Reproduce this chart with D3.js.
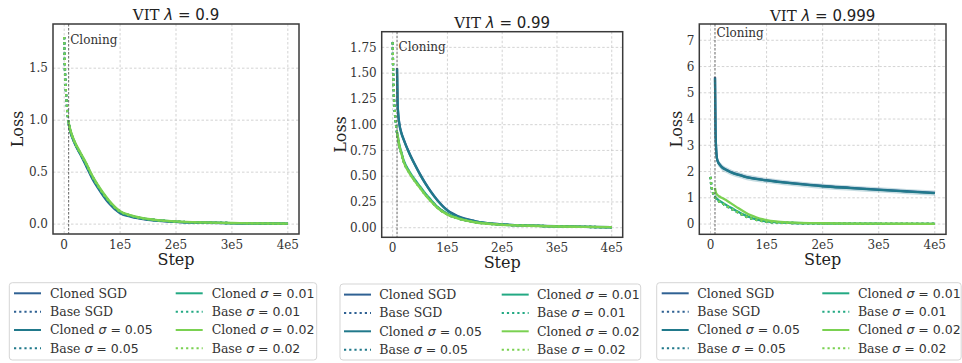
<html>
<head>
<meta charset="utf-8">
<script src="https://d3js.org/d3.v7.min.js"></script>
<style>
  body { margin: 0; background: #fff; }
  text { font-family: "DejaVu Serif"; }
</style>
</head>
<body>
<svg width="962" height="363"></svg>
<script>
// ---- data ----
var steps = [0, 1000, 2000, 4000, 6000, 8000, 9000, 10000, 12000, 16000, 20000, 30000, 40000,
             50000, 60000, 70000, 80000, 100000, 120000, 150000, 200000, 250000, 300000, 350000, 400000];
var cloneStep = 8000;

var xTicks = [0, 1e5, 2e5, 3e5, 4e5];
var xTickLabels = ["0", "1e5", "2e5", "3e5", "4e5"];
var lambdas = ["0.9", "0.99", "0.999"];
var yTicks = [[0, 0.5, 1.0, 1.5],
              [0, 0.25, 0.5, 0.75, 1.0, 1.25, 1.5, 1.75],
              [0, 1, 2, 3, 4, 5, 6, 7]];
var yTickFormats = [".1f", ".2f", "d"];
var cloningLabelY = [1.735, 1.71, 7.13];

// lambda = 0.9
var p1Base      = [1.80, 1.55, 1.40, 1.20, 1.06, 0.97, 0.94, 0.92, 0.88, 0.82, 0.77, 0.67, 0.57, 0.46, 0.37, 0.29, 0.22, 0.12, 0.08, 0.048, 0.024, 0.015, 0.010, 0.007, 0.004];
var p1ClonedSGD = [null, null, null, null, null, 0.97, 0.94, 0.91, 0.87, 0.81, 0.76, 0.66, 0.55, 0.44, 0.35, 0.27, 0.20, 0.105, 0.07, 0.042, 0.021, 0.013, 0.009, 0.006, 0.003];
var p1Cloned05  = [null, null, null, null, null, 0.97, 0.94, 0.92, 0.88, 0.82, 0.77, 0.665, 0.56, 0.45, 0.36, 0.28, 0.21, 0.11, 0.075, 0.045, 0.022, 0.014, 0.009, 0.006, 0.003];
var p1Cloned01  = [null, null, null, null, null, 0.97, 0.94, 0.92, 0.88, 0.82, 0.77, 0.67, 0.57, 0.46, 0.37, 0.29, 0.22, 0.12, 0.08, 0.048, 0.024, 0.015, 0.010, 0.007, 0.004];
var p1Cloned02  = [null, null, null, null, null, 0.98, 0.95, 0.93, 0.89, 0.83, 0.78, 0.68, 0.58, 0.47, 0.38, 0.30, 0.23, 0.125, 0.085, 0.05, 0.026, 0.016, 0.011, 0.007, 0.004];

// lambda = 0.99
var p2Base      = [1.80, 1.50, 1.32, 1.12, 1.00, 0.92, 0.89, 0.86, 0.80, 0.72, 0.645, 0.54, 0.46, 0.39, 0.32, 0.26, 0.205, 0.13, 0.09, 0.055, 0.03, 0.02, 0.013, 0.008, 0.005];
var p2ClonedSGD = [null, null, null, null, null, 1.55, 1.22, 1.12, 1.02, 0.92, 0.86, 0.73, 0.62, 0.52, 0.43, 0.35, 0.28, 0.17, 0.11, 0.065, 0.032, 0.021, 0.014, 0.009, 0.005];
var p2Cloned05  = [null, null, null, null, null, 1.54, 1.21, 1.11, 1.01, 0.915, 0.855, 0.725, 0.615, 0.515, 0.425, 0.345, 0.275, 0.165, 0.105, 0.062, 0.031, 0.02, 0.013, 0.008, 0.004];
var p2Cloned01  = [null, null, null, null, null, 0.93, 0.90, 0.87, 0.81, 0.73, 0.655, 0.55, 0.47, 0.40, 0.33, 0.27, 0.21, 0.135, 0.092, 0.056, 0.03, 0.02, 0.013, 0.008, 0.005];
var p2Cloned02  = [null, null, null, null, null, 0.92, 0.89, 0.86, 0.80, 0.72, 0.64, 0.535, 0.455, 0.385, 0.315, 0.255, 0.20, 0.127, 0.088, 0.053, 0.028, 0.019, 0.012, 0.008, 0.005];

// lambda = 0.999
var p3Base      = [1.80, 1.55, 1.40, 1.22, 1.10, 1.02, 0.99, 0.96, 0.92, 0.85, 0.80, 0.67, 0.55, 0.43, 0.32, 0.23, 0.17, 0.09, 0.06, 0.038, 0.02, 0.013, 0.009, 0.007, 0.005];
var p3ClonedSGD = [null, null, null, null, null, 5.60, 3.60, 2.90, 2.45, 2.28, 2.18, 2.05, 1.95, 1.88, 1.82, 1.77, 1.73, 1.67, 1.62, 1.55, 1.45, 1.38, 1.31, 1.25, 1.19];
var p3Cloned05  = [null, null, null, null, null, 5.55, 3.55, 2.88, 2.44, 2.27, 2.17, 2.04, 1.94, 1.87, 1.81, 1.76, 1.72, 1.66, 1.61, 1.54, 1.44, 1.37, 1.30, 1.24, 1.18];
var p3Band05    = [null, null, null, null, null, 0.30, 0.22, 0.17, 0.14, 0.12, 0.12, 0.11, 0.11, 0.11, 0.11, 0.11, 0.11, 0.10, 0.10, 0.10, 0.10, 0.10, 0.10, 0.10, 0.10];
var p3Cloned01  = [null, null, null, null, null, 1.08, 1.02, 0.99, 0.95, 0.88, 0.83, 0.70, 0.58, 0.46, 0.35, 0.26, 0.19, 0.10, 0.066, 0.04, 0.022, 0.015, 0.011, 0.008, 0.006];
var p3Cloned02  = [null, null, null, null, null, 1.38, 1.25, 1.18, 1.12, 1.05, 1.00, 0.88, 0.74, 0.60, 0.47, 0.35, 0.27, 0.15, 0.095, 0.055, 0.03, 0.02, 0.015, 0.012, 0.010];

var seriesNames = ["SGD", "SGD", "0.05", "0.05", "0.01", "0.01", "0.02", "0.02"];
var seriesKinds = ["Cloned", "Base", "Cloned", "Base", "Cloned", "Base", "Cloned", "Base"];
var seriesColors = ["#2f6193", "#2f6193", "#21798b", "#21798b", "#23a983", "#23a983", "#7ad151", "#7ad151"];

var panelData = [
  [p1ClonedSGD, p1Base, p1Cloned05, p1Base, p1Cloned01, p1Base, p1Cloned02, p1Base],
  [p2ClonedSGD, p2Base, p2Cloned05, p2Base, p2Cloned01, p2Base, p2Cloned02, p2Base],
  [p3ClonedSGD, p3Base, p3Cloned05, p3Base, p3Cloned01, p3Base, p3Cloned02, p3Base]
];
var panelBands = [null, null, {mid: p3Cloned05, half: p3Band05, color: "#21798b"}];

// ---- layout ----
var panels = [
  {l: 53,    r: 299, t: 24,   b: 234,   yDom: [-0.095, 1.925], lossX: 23.3, titleY: 20,
   leg: {x: 9.3,  y: 282.7, w: 307.4, h: 77.3, col2: 161.7, tx: 40.7, hx: 4.7}},
  {l: 381.7, r: 622.7, t: 31.7, b: 237.3, yDom: [-0.093, 1.902], lossX: 345.7, titleY: 28,
   leg: {x: 340,  y: 284,   w: 300.7, h: 76,   col2: 157.7, tx: 39.3, hx: 4}},
  {l: 699.3, r: 946, t: 24,   b: 234.3, yDom: [-0.39, 7.62],  lossX: 681.7, titleY: 20.5,
   leg: {x: 656.7, y: 282.7, w: 304.5, h: 77.3, col2: 160.6, tx: 40.6, hx: 5}}
];

var svg = d3.select("svg");

panels.forEach(function(p, k) {
  var xScale = d3.scaleLinear().domain([-2e4, 4.2e5]).range([p.l, p.r]);
  var yScale = d3.scaleLinear().domain(p.yDom).range([p.b, p.t]);
  var g = svg.append("g");

  g.append("clipPath").attr("id", "clip" + k)
    .append("rect").attr("x", p.l).attr("y", p.t).attr("width", p.r - p.l).attr("height", p.b - p.t);

  // grid
  g.selectAll(".vgrid").data(xTicks).enter().append("line")
    .attr("x1", d => xScale(d)).attr("x2", d => xScale(d))
    .attr("y1", p.t).attr("y2", p.b)
    .attr("stroke", "#c8c8c8").attr("stroke-width", 0.8).attr("stroke-dasharray", "2.5,2");
  g.selectAll(".hgrid").data(yTicks[k]).enter().append("line")
    .attr("y1", d => yScale(d)).attr("y2", d => yScale(d))
    .attr("x1", p.l).attr("x2", p.r)
    .attr("stroke", "#c8c8c8").attr("stroke-width", 0.8).attr("stroke-dasharray", "2.5,2");

  // tick labels
  g.selectAll(".xt").data(xTicks).enter().append("text")
    .attr("x", d => xScale(d)).attr("y", p.b + 14.5)
    .attr("text-anchor", "middle").attr("font-size", 12).attr("fill", "#333")
    .text((d, i) => xTickLabels[i]);
  var fmt = d3.format(yTickFormats[k]);
  g.selectAll(".yt").data(yTicks[k]).enter().append("text")
    .attr("x", p.l - 5).attr("y", d => yScale(d) + 4.3)
    .attr("text-anchor", "end").attr("font-size", 12).attr("fill", "#333")
    .text(d => fmt(d));

  var plot = g.append("g").attr("clip-path", "url(#clip" + k + ")");

  // band
  var band = panelBands[k];
  if (band) {
    var area = d3.area()
      .defined((d, i) => band.mid[i] != null)
      .x((d, i) => xScale(steps[i]))
      .y0((d, i) => yScale(band.mid[i] - band.half[i]))
      .y1((d, i) => yScale(band.mid[i] + band.half[i]))
      .curve(d3.curveMonotoneX);
    plot.append("path").datum(steps).attr("d", area)
      .attr("fill", band.color).attr("fill-opacity", 0.25);
  }

  var line = d3.line()
    .defined(d => d[1] != null)
    .x(d => xScale(d[0]))
    .y(d => yScale(d[1]))
    .curve(d3.curveMonotoneX);

  panelData[k].forEach(function(vals, j) {
    var pts = steps.map((s, i) => [s, vals[i]]);
    plot.append("path").datum(pts).attr("d", line)
      .attr("fill", "none").attr("stroke", seriesColors[j])
      .attr("stroke-width", 2.3)
      .attr("stroke-dasharray", seriesKinds[j] == "Base" ? "2.2,3" : null);
  });

  // cloning line
  g.append("line")
    .attr("x1", xScale(cloneStep)).attr("x2", xScale(cloneStep))
    .attr("y1", p.t).attr("y2", p.b)
    .attr("stroke", "#555").attr("stroke-width", 0.9).attr("stroke-dasharray", "2.5,1.5");
  g.append("text")
    .attr("x", xScale(cloneStep) + 1.5).attr("y", yScale(cloningLabelY[k]))
    .attr("font-size", 12).attr("fill", "#333").text("Cloning");

  // frame
  g.append("rect").attr("x", p.l).attr("y", p.t).attr("width", p.r - p.l).attr("height", p.b - p.t)
    .attr("fill", "none").attr("stroke", "#3a3a3a").attr("stroke-width", 1.5);

  // title
  var title = g.append("text").attr("x", (p.l + p.r) / 2).attr("y", p.titleY)
    .attr("text-anchor", "middle").attr("font-size", 15).attr("fill", "#222");
  title.append("tspan").text("VIT ");
  title.append("tspan").attr("font-family", "DejaVu Sans").attr("font-style", "italic").text("λ");
  title.append("tspan").attr("font-family", "DejaVu Sans").text(" = " + lambdas[k]);

  // axis labels
  g.append("text").attr("x", (p.l + p.r) / 2).attr("y", p.b + 31)
    .attr("text-anchor", "middle").attr("font-size", 16).attr("fill", "#222").text("Step");
  g.append("text")
    .attr("transform", "translate(" + p.lossX + "," + ((p.t + p.b) / 2) + ") rotate(-90)")
    .attr("text-anchor", "middle").attr("font-size", 16).attr("fill", "#222").text("Loss");

  // legend
  var L = p.leg;
  var lg = g.append("g").attr("transform", "translate(" + L.x + "," + L.y + ")");
  lg.append("rect").attr("width", L.w).attr("height", L.h).attr("rx", 3)
    .attr("fill", "#fff").attr("stroke", "#d5d5d5").attr("stroke-width", 1);
  seriesNames.forEach(function(nm, j) {
    var col = j < 4 ? 0 : 1;
    var row = j % 4;
    var cy = 10.6 + row * 18.35;
    var ox = col * L.col2;
    lg.append("line").attr("x1", ox + L.hx).attr("x2", ox + L.hx + 27)
      .attr("y1", cy).attr("y2", cy)
      .attr("stroke", seriesColors[j]).attr("stroke-width", 2)
      .attr("stroke-dasharray", seriesKinds[j] == "Base" ? "2.2,3" : null);
    var t = lg.append("text").attr("x", ox + L.tx).attr("y", cy + 4.5)
      .attr("font-size", 12.5).attr("fill", "#333");
    if (nm == "SGD") {
      t.text(seriesKinds[j] + " SGD");
    } else {
      t.append("tspan").text(seriesKinds[j] + " ");
      t.append("tspan").attr("font-family", "DejaVu Sans").attr("font-style", "italic").text("σ");
      t.append("tspan").attr("font-family", "DejaVu Sans").text(" = " + nm);
    }
  });
});
</script>
</body>
</html>
